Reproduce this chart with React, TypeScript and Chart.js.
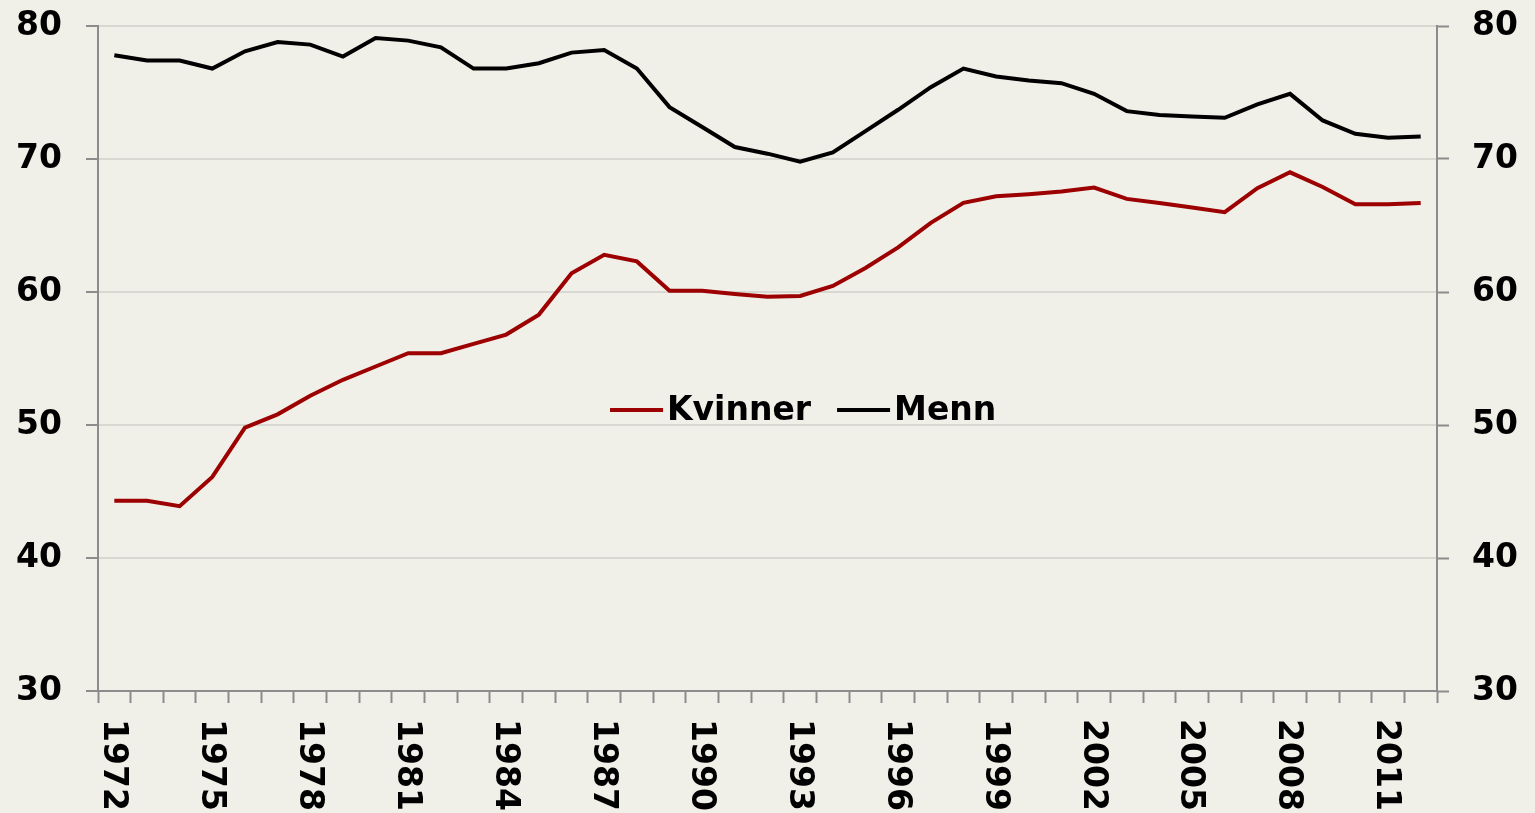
import React, { useEffect, useRef } from "react";
import { Chart, registerables } from "chart.js";

Chart.register(...registerables);

const years: string[] = [
  "1972", "1973", "1974", "1975", "1976", "1977", "1978", "1979", "1980", "1981",
  "1982", "1983", "1984", "1985", "1986", "1987", "1988", "1989", "1990", "1991",
  "1992", "1993", "1994", "1995", "1996", "1997", "1998", "1999", "2000", "2001",
  "2002", "2003", "2004", "2005", "2006", "2007", "2008", "2009", "2010", "2011",
  "2012",
];

const kvinner: number[] = [
  44.3, 44.3, 43.9, 46.1, 49.8, 50.8, 52.2, 53.4, 54.4, 55.4,
  55.4, 56.1, 56.8, 58.3, 61.4, 62.8, 62.3, 60.1, 60.1, 59.85,
  59.65, 59.7, 60.45, 61.8, 63.35, 65.2, 66.7, 67.2, 67.35, 67.55,
  67.85, 67.0, 66.7, 66.35, 66.0, 67.8, 69.0, 67.9, 66.6, 66.6,
  66.7,
];

const menn: number[] = [
  77.8, 77.4, 77.4, 76.8, 78.1, 78.8, 78.6, 77.7, 79.1, 78.9,
  78.4, 76.8, 76.8, 77.2, 78.0, 78.2, 76.8, 73.9, 72.4, 70.9,
  70.4, 69.8, 70.5, 72.1, 73.7, 75.4, 76.8, 76.2, 75.9, 75.7,
  74.9, 73.6, 73.3, 73.2, 73.1, 74.1, 74.9, 72.9, 71.9, 71.6,
  71.7,
];

const seriesNames: string[] = ["Kvinner", "Menn"];
const seriesColors: string[] = ["#9C0000", "#000000"];
const yMin = 30;
const yMax = 80;
const yStep = 10;
const xLabelEvery = 3;

const FONT_FAMILY = '"DejaVu Sans", Verdana, sans-serif';
const FONT_SIZE = 33;
const AXIS_COLOR = "#8c8c8c";
const GRID_COLOR = "#d8d8d2";
const BG = "#F0EFE8";
const LINE_W = 4;

const xLabelPlugin = {
  id: "xLabelPlugin",
  afterDraw(chart: any) {
    const ctx = chart.ctx;
    const xs = chart.scales.x;
    ctx.save();
    ctx.font = `bold ${FONT_SIZE}px ${FONT_FAMILY}`;
    ctx.fillStyle = "#000";
    years.forEach((label, i) => {
      if (i % xLabelEvery !== 0) return;
      const px = xs.getPixelForValue(i);
      ctx.save();
      ctx.translate(px - 2, xs.top + 28);
      ctx.rotate(Math.PI / 2);
      ctx.textAlign = "left";
      ctx.textBaseline = "middle";
      ctx.fillText(label, 0, 0);
      ctx.restore();
    });
    ctx.restore();
  },
};

const legendPlugin = {
  id: "innerLegend",
  afterDraw(chart: any) {
    const ctx = chart.ctx;
    const area = chart.chartArea;
    const w = area.right - area.left;
    const h = area.bottom - area.top;
    let x = area.left + w * 0.3824;
    const y = area.top + h * 0.5774;
    ctx.save();
    ctx.font = `bold ${FONT_SIZE}px ${FONT_FAMILY}`;
    ctx.textBaseline = "middle";
    ctx.textAlign = "left";
    chart.data.datasets.forEach((ds: any) => {
      ctx.strokeStyle = ds.borderColor;
      ctx.lineWidth = LINE_W;
      ctx.beginPath();
      ctx.moveTo(x, y);
      ctx.lineTo(x + 53, y);
      ctx.stroke();
      x += 57;
      ctx.fillStyle = "#000";
      ctx.fillText(ds.label, x, y + 1);
      x += ctx.measureText(ds.label).width + 26;
    });
    ctx.restore();
  },
};

export default function App() {
  const canvasRef = useRef<HTMLCanvasElement | null>(null);

  useEffect(() => {
    const canvas = canvasRef.current;
    if (!canvas) return;
    const font = { family: FONT_FAMILY, size: FONT_SIZE, weight: "bold" as const, lineHeight: 0.1 };
    const chart = new Chart(canvas, {
      type: "line",
      data: {
        labels: years,
        datasets: [
          {
            label: seriesNames[0],
            data: kvinner,
            borderColor: seriesColors[0],
            backgroundColor: seriesColors[0],
            borderWidth: LINE_W,
            pointRadius: 0,
            tension: 0,
            yAxisID: "y",
          },
          {
            label: seriesNames[1],
            data: menn,
            borderColor: seriesColors[1],
            backgroundColor: seriesColors[1],
            borderWidth: LINE_W,
            pointRadius: 0,
            tension: 0,
            yAxisID: "y",
          },
        ],
      },
      options: {
        animation: false,
        responsive: false,
        devicePixelRatio: 1,
        layout: { padding: { top: 26, left: 0, right: 0, bottom: 0 } },
        plugins: {
          legend: { display: false },
          tooltip: { enabled: false },
        },
        scales: {
          x: {
            type: "category",
            offset: true,
            grid: {
              offset: true,
              drawOnChartArea: false,
              drawTicks: true,
              tickLength: 12,
              tickColor: AXIS_COLOR,
              tickWidth: 2,
            },
            border: { color: AXIS_COLOR, width: 2 },
            ticks: { display: false },
            afterFit: (s: any) => {
              s.height = 122;
            },
          },
          y: {
            position: "left",
            min: yMin,
            max: yMax,
            ticks: { stepSize: yStep, font, color: "#000", padding: 24 },
            grid: {
              color: GRID_COLOR,
              lineWidth: 2,
              tickColor: AXIS_COLOR,
              tickLength: 12,
              tickWidth: 2,
            },
            border: { color: AXIS_COLOR, width: 2 },
            afterFit: (s: any) => {
              s.width = 98;
            },
          },
          y2: {
            position: "right",
            min: yMin,
            max: yMax,
            ticks: { stepSize: yStep, font, color: "#000", padding: 23 },
            grid: {
              drawOnChartArea: false,
              tickColor: AXIS_COLOR,
              tickLength: 12,
              tickWidth: 2,
            },
            border: { color: AXIS_COLOR, width: 2 },
            afterFit: (s: any) => {
              s.width = 98;
            },
          },
        },
      },
      plugins: [xLabelPlugin, legendPlugin],
    });
    return () => chart.destroy();
  }, []);

  return (
    <div
      style={{
        position: "fixed",
        left: 0,
        top: 0,
        width: 1535,
        height: 813,
        background: BG,
        overflow: "hidden",
      }}
    >
      <canvas ref={canvasRef} width={1535} height={813} style={{ display: "block" }} />
    </div>
  );
}
